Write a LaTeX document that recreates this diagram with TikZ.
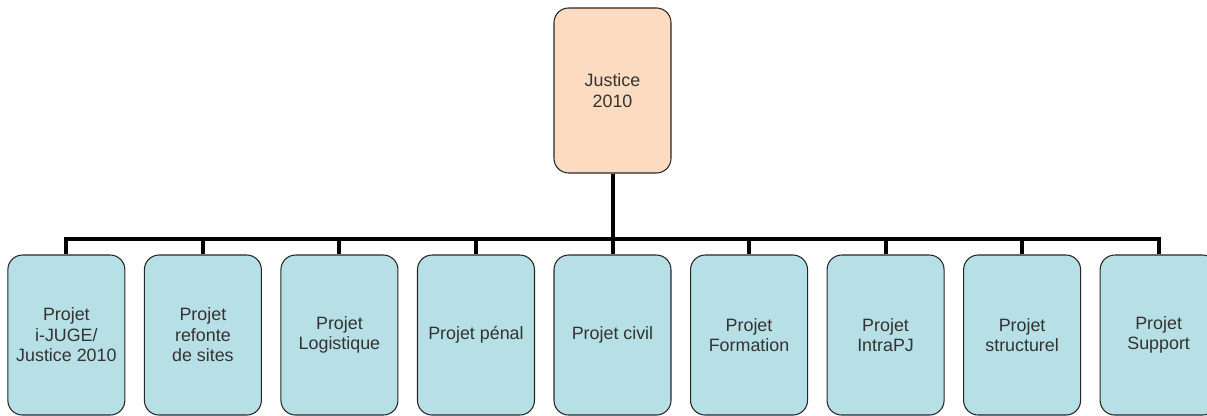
\documentclass[tikz,border=0pt]{standalone}
\usepackage{xcolor}
\usepackage{fontspec}
\setmainfont{Liberation Sans}
\usepackage{tikz}
\usetikzlibrary{positioning, trees}

\definecolor{rootfill}{HTML}{FCDBC0}
\definecolor{leaffill}{HTML}{B7E0E6}
\definecolor{boxtext}{HTML}{333333}

\begin{document}
\begin{tikzpicture}[
            x=0.75pt, y=0.75pt,
            grow=down,
            level 1/.style={level distance=183.4pt, sibling distance=102.4pt},
            edge from parent/.style={draw=black, line width=3pt},
            edge from parent path={(\tikzparentnode.south) -- ++(0,-65) -| (\tikzchildnode.north)},
            root/.style={rectangle, rounded corners=11pt, draw=black!85, fill=rootfill, line width=0.8pt, text=boxtext, align=center, minimum width=87.75pt, minimum height=123.75pt, inner sep=2pt, font=\fontsize{13.4}{15.4}\selectfont},
            leaf/.style={rectangle, rounded corners=11pt, draw=black!85, fill=leaffill, line width=0.8pt, text=boxtext, align=center, minimum width=87.75pt, minimum height=120pt, inner sep=2pt, font=\fontsize{13.4}{15.4}\selectfont}
        ]
            \useasboundingbox (0,0) rectangle (1207,-416);
            \node[root] (justice) at (612.5,-90.5) {Justice\\2010}
                child { node[leaf] (ijuge) {Projet\\i-JUGE/\\Justice 2010} }
                child { node[leaf] (refonte) {Projet\\refonte\\de sites} }
                child { node[leaf] (logistique) {Projet\\Logistique} }
                child { node[leaf] (penal) {Projet p\'enal} }
                child { node[leaf] (civil) {Projet civil} }
                child { node[leaf] (formation) {Projet\\Formation} }
                child { node[leaf] (intrapj) {Projet\\IntraPJ} }
                child { node[leaf] (structurel) {Projet\\structurel} }
                child { node[leaf] (support) {Projet\\Support} };
        \end{tikzpicture}
\end{document}
